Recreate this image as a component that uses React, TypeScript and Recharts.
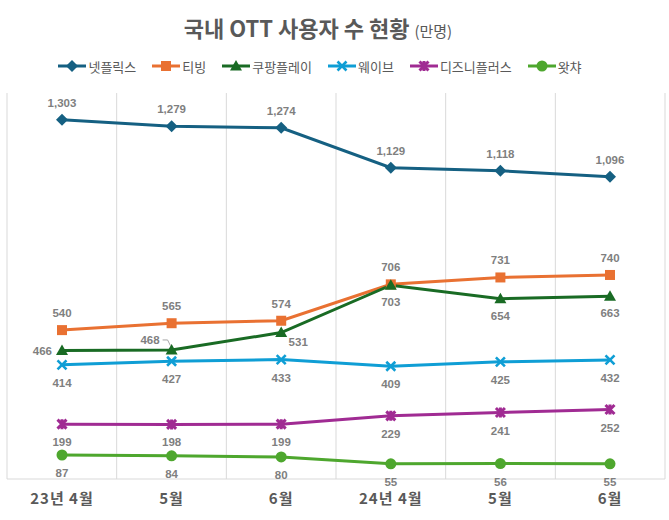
import { CartesianGrid, LabelList, Line, LineChart, XAxis, YAxis } from "recharts";

const months = ["23년 4월", "5월", "6월", "24년 4월", "5월", "6월"];
const netflix = [1303, 1279, 1274, 1129, 1118, 1096];
const tving = [540, 565, 574, 706, 731, 740];
const coupang = [466, 468, 531, 703, 654, 663];
const wavve = [414, 427, 433, 409, 425, 432];
const disney = [199, 198, 199, 229, 241, 252];
const watcha = [87, 84, 80, 55, 56, 55];

const data = months.map((m, i) => ({
  month: m,
  netflix: netflix[i],
  tving: tving[i],
  coupang: coupang[i],
  wavve: wavve[i],
  disney: disney[i],
  watcha: watcha[i],
}));

const LABEL_COLOR = "#7f7f7f";
const TEXT_COLOR = "#595959";
const GRID = "#d9d9d9";
const KFONT = "'Noto Sans CJK KR', 'Noto Sans', sans-serif";
const NFONT = "'Liberation Sans', Arial, sans-serif";

type Shape = "diamond" | "square" | "triangle" | "x" | "star" | "circle";

const series: { key: string; name: string; color: string; shape: Shape; place: string }[] = [
  { key: "netflix", name: "넷플릭스", color: "#156082", shape: "diamond", place: "above" },
  { key: "tving", name: "티빙", color: "#e97132", shape: "square", place: "above" },
  { key: "coupang", name: "쿠팡플레이", color: "#196b24", shape: "triangle", place: "coupang" },
  { key: "wavve", name: "웨이브", color: "#0f9ed5", shape: "x", place: "below" },
  { key: "disney", name: "디즈니플러스", color: "#a02b93", shape: "star", place: "below" },
  { key: "watcha", name: "왓챠", color: "#4ea72e", shape: "circle", place: "below" },
];

const marker = (shape: Shape, color: string, cx: number, cy: number, k?: string) => {
  switch (shape) {
    case "diamond":
      return <path key={k} d={`M${cx},${cy - 6} L${cx + 6},${cy} L${cx},${cy + 6} L${cx - 6},${cy} Z`} fill={color} />;
    case "square":
      return <rect key={k} x={cx - 5} y={cy - 5} width={10} height={10} fill={color} />;
    case "triangle":
      return <path key={k} d={`M${cx},${cy - 6} L${cx + 6},${cy + 4.5} L${cx - 6},${cy + 4.5} Z`} fill={color} />;
    case "x":
      return (
        <path key={k} d={`M${cx - 4.5},${cy - 4.5} L${cx + 4.5},${cy + 4.5} M${cx + 4.5},${cy - 4.5} L${cx - 4.5},${cy + 4.5}`} stroke={color} strokeWidth={2.6} />
      );
    case "star":
      return (
        <path
          key={k}
          d={`M${cx - 4.5},${cy - 4.5} L${cx + 4.5},${cy + 4.5} M${cx + 4.5},${cy - 4.5} L${cx - 4.5},${cy + 4.5} M${cx},${cy - 5} L${cx},${cy + 5}`}
          stroke={color}
          strokeWidth={3}
        />
      );
    default:
      return <circle key={k} cx={cx} cy={cy} r={5.5} fill={color} />;
  }
};

const makeDot = (shape: Shape, color: string) => (props: any) => {
  const { cx, cy, index } = props;
  return marker(shape, color, cx, cy, `dot-${index}`);
};

const fmt = (v: number) => v.toLocaleString("en-US");

const makeLabel = (place: string) => (props: any) => {
  const { x, y, value, index } = props;
  let tx = x;
  let ty = y + 18;
  let anchor: "middle" | "start" | "end" = "middle";
  let leader = null;
  if (place === "above") ty = y - 17;
  if (place === "coupang") {
    if (index === 0) {
      tx = x - 10;
      ty = y;
      anchor = "end";
    } else if (index === 1) {
      tx = x - 12;
      ty = y - 10;
      anchor = "end";
      leader = <path d={`M${x - 9},${y - 10} H${x - 4} L${x - 1},${y - 4}`} stroke="#a6a6a6" fill="none" strokeWidth={1} />;
    } else if (index === 2) {
      tx = x + 17;
      ty = y + 9;
    } else {
      ty = y + 17;
    }
  }
  return (
    <g key={`lbl-${index}`}>
      {leader}
      <text x={tx} y={ty} dy="0.35em" textAnchor={anchor} fill={LABEL_COLOR} fontSize={11.5} fontWeight="bold" fontFamily={NFONT}>
        {fmt(value)}
      </text>
    </g>
  );
};

const MonthTick = (props: any) => {
  const { x, y, payload } = props;
  return (
    <text x={x} y={y + 17} textAnchor="middle" fill={TEXT_COLOR} fontSize={15} fontWeight="bold" fontFamily={KFONT} letterSpacing={1}>
      {payload.value}
    </text>
  );
};

const LegendIcon = ({ shape, color }: { shape: Shape; color: string }) => (
  <svg width={28} height={12} style={{ display: "block" }}>
    <line x1={0} y1={6} x2={28} y2={6} stroke={color} strokeWidth={3} />
    {marker(shape, color, 14, 6)}
  </svg>
);

export default function App() {
  return (
    <div style={{ position: "absolute", left: 0, top: 0, width: 669, height: 520, background: "#fff" }}>
      <div
        style={{
          position: "absolute",
          left: 0,
          top: 11,
          width: 636,
          textAlign: "center",
          fontFamily: KFONT,
          color: TEXT_COLOR,
          fontWeight: "bold",
          fontSize: 22,
          whiteSpace: "nowrap",
        }}
      >
        국내 OTT 사용자 수 현황 <span style={{ fontSize: 15, fontWeight: "normal" }}>(만명)</span>
      </div>
      <div
        style={{
          position: "absolute",
          left: 0,
          top: 56,
          width: 640,
          display: "flex",
          justifyContent: "center",
          gap: 16,
          fontFamily: KFONT,
          fontSize: 13,
          color: TEXT_COLOR,
        }}
      >
        {series.map((s) => (
          <div key={s.key} style={{ display: "flex", alignItems: "center", gap: 2, height: 20 }}>
            <LegendIcon shape={s.shape} color={s.color} />
            <span>{s.name}</span>
          </div>
        ))}
      </div>
      <LineChart width={669} height={520} data={data} margin={{ top: 93, right: 4, left: 7, bottom: 11 }}>
        <CartesianGrid
          horizontal={false}
          stroke={GRID}
          verticalCoordinatesGenerator={({ offset }: any) =>
            Array.from({ length: 7 }, (_, i) => offset.left + (i * offset.width) / 6)
          }
        />
        <XAxis
          dataKey="month"
          padding={{ left: 55, right: 55 }}
          height={30}
          axisLine={{ stroke: GRID }}
          tickLine={false}
          tick={<MonthTick />}
          interval={0}
        />
        <YAxis hide domain={[0, 1400]} />
        {series.map((s) => (
          <Line
            key={s.key}
            dataKey={s.key}
            name={s.name}
            stroke={s.color}
            strokeWidth={3}
            dot={makeDot(s.shape, s.color)}
            activeDot={false}
            isAnimationActive={false}
          >
            <LabelList dataKey={s.key} content={makeLabel(s.place)} />
          </Line>
        ))}
      </LineChart>
    </div>
  );
}
